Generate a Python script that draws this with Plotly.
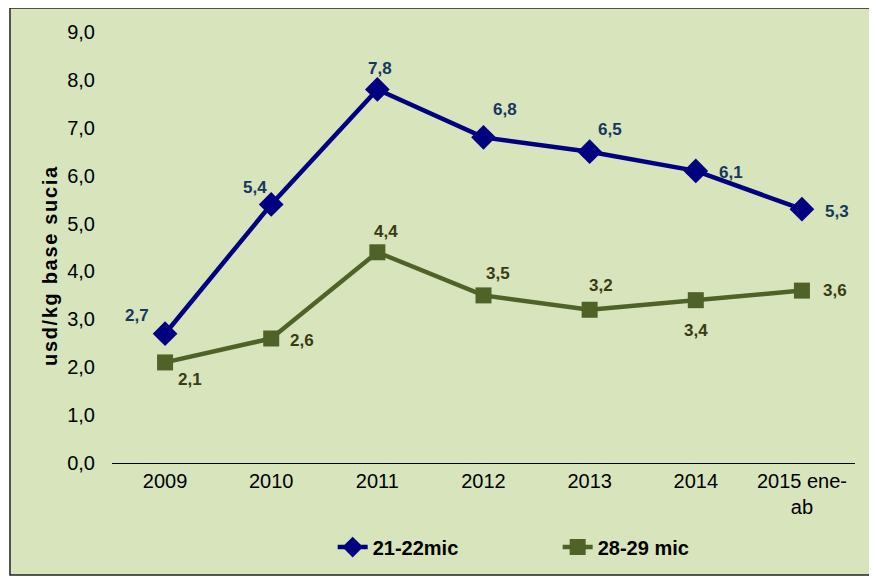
import plotly.graph_objects as go

categorias = ["2009", "2010", "2011", "2012", "2013", "2014", "2015 ene-<br>ab"]
fina = [2.7, 5.4, 7.8, 6.8, 6.5, 6.1, 5.3]      # 21-22mic
gruesa = [2.1, 2.6, 4.4, 3.5, 3.2, 3.4, 3.6]    # 28-29 mic
ticks_y = [0, 1, 2, 3, 4, 5, 6, 7, 8, 9]

# posicion de cada categoria en el eje
pos = list(range(len(categorias)))

# desplazamiento de las etiquetas (px)
off_fina = [(-28, 18), (-16, 17), (3, 21), (21, 28), (20, 22), (35, -2), (35, -2)]
off_gruesa = [(25, -17), (31, -2), (9, 21), (14, 22), (11, 24), (0, -30), (33, 0)]

def fmt(v):
  return f"{v:.1f}".replace(".", ",")

fig = go.Figure()

fig.add_trace(go.Scatter(
  x=pos, y=fina, name="<b>21-22mic</b>", mode="lines+markers",
  line=dict(color="#000080", width=4.5),
  marker=dict(symbol="diamond", size=19, color="#000080")
))
fig.add_trace(go.Scatter(
  x=pos, y=gruesa, name="<b>28-29 mic</b>", mode="lines+markers",
  line=dict(color="#4f6228", width=4.5),
  marker=dict(symbol="square", size=16, color="#4f6228")
))

for x, y, (dx, dy) in zip(pos, fina, off_fina):
  fig.add_annotation(x=x, y=y, text="<b>" + fmt(y) + "</b>", showarrow=False, xshift=dx, yshift=dy,
                     font=dict(family="Liberation Sans", size=17, color="#17375e"))
for x, y, (dx, dy) in zip(pos, gruesa, off_gruesa):
  fig.add_annotation(x=x, y=y, text="<b>" + fmt(y) + "</b>", showarrow=False, xshift=dx, yshift=dy,
                     font=dict(family="Liberation Sans", size=17, color="#3b3b12"))

# titulo del eje y
titulo = "\u200a".join("usd/kg base sucia")
fig.add_annotation(x=-0.101, y=0.457, xref="paper", yref="paper", showarrow=False,
                   text="<b>" + titulo + "</b>", textangle=-90,
                   font=dict(family="Liberation Sans", size=20, color="#000000"))

# marco verde con borde
fig.add_shape(type="rect", xref="paper", yref="paper",
              x0=-0.1373, x1=1.0242, y0=-0.2599, y1=1.0557,
              fillcolor="#d8e4bc", line=dict(color="#222222", width=1.5), layer="below")

# la pagina agrega 8px de margen, por eso el tamaño es menor
fig.update_layout(
  width=869, height=570,
  margin=dict(l=104, r=22, t=24, b=111),
  paper_bgcolor="#FFFFFF",
  plot_bgcolor="rgba(0,0,0,0)",
  font=dict(family="Liberation Sans", size=20, color="#000000"),
  xaxis=dict(
    range=[-0.5, len(categorias) - 0.5], automargin=False,
    tickvals=pos, ticktext=categorias,
    showgrid=False, showline=True, linecolor="#000000", linewidth=1,
    ticks="", tickfont=dict(size=20), zeroline=False
  ),
  yaxis=dict(
    range=[0, 9], tickvals=ticks_y, ticktext=[fmt(v) for v in ticks_y],
    automargin=False,
    showgrid=False, showline=False, zeroline=False, ticks="",
    ticklabelstandoff=16, tickfont=dict(size=20)
  ),
  legend=dict(
    orientation="h", x=0.297, xanchor="left", y=-0.195, yanchor="middle",
    font=dict(size=20, family="Liberation Sans"),
    entrywidth=180, bgcolor="rgba(0,0,0,0)"
  )
)

fig.write_html("out.html")
